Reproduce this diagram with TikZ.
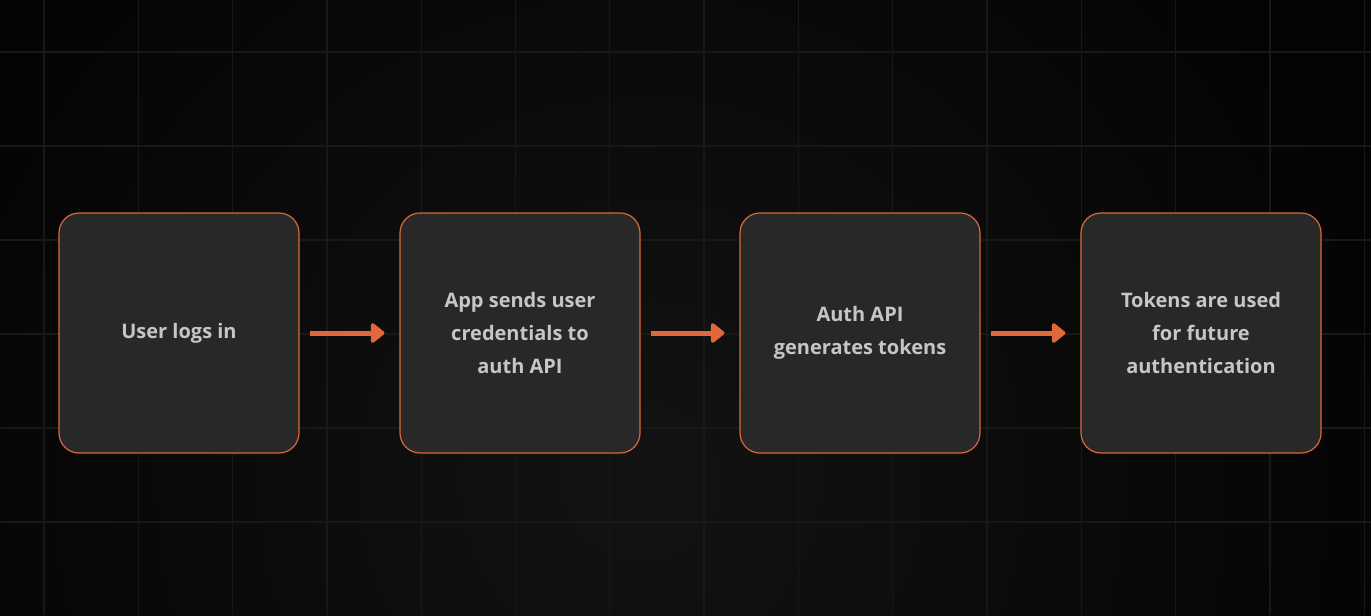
\documentclass[tikz,border=0pt]{standalone}
\usepackage{fontspec}
\setmainfont{Open Sans}
\usetikzlibrary{positioning,arrows.meta}
\definecolor{bgedge}{HTML}{040404}
\definecolor{bgmid}{HTML}{131313}
\definecolor{gridline}{HTML}{181818}
\definecolor{boxfill}{HTML}{282828}
\definecolor{boxline}{HTML}{D9693A}
\definecolor{flowline}{HTML}{E0683A}
\definecolor{boxtext}{HTML}{C6C6C6}

\begin{document}
\begin{tikzpicture}[x=0.75pt,y=-0.75pt,
    stepbox/.style={draw=boxline,fill=boxfill,line width=0.9pt,rounded corners=15pt,
      minimum width=180pt,minimum height=180pt,align=center,text=boxtext,
      font=\bfseries\fontsize{15}{24.75}\selectfont},
    flow/.style={draw=flowline,line width=3.75pt,
      -{Triangle[round,length=11pt,width=17pt]}}]
        % background and grid
        \fill[bgedge] (0,0) rectangle (1371,615);
        \begin{scope}
        \clip (0,0) rectangle (1371,615);
        \shade[inner color=bgmid,outer color=bgedge] (640,480) circle (760);
        \end{scope}
        \useasboundingbox (0,0) rectangle (1371,615);
        \foreach \i in {0,...,14}
          \draw[gridline,line width=1pt] (44+94.3*\i,0) -- (44+94.3*\i,615);
        \foreach \j in {0,...,5}
          \draw[gridline,line width=1pt] (0,52+94*\j) -- (1371,52+94*\j);
        % the four steps
        \node[stepbox] (login) at (179,333) {User logs in};
        \node[stepbox] (send) at (520,333) {App sends user\\credentials to\\auth API};
        \node[stepbox] (gen) at (860,333) {Auth API\\generates tokens};
        \node[stepbox] (use) at (1201,333) {Tokens are used\\for future\\authentication};
        \draw[flow] ([xshift=8pt]login.east) -- ([xshift=-11.25pt]send.west);
        \draw[flow] ([xshift=8pt]send.east) -- ([xshift=-11.25pt]gen.west);
        \draw[flow] ([xshift=8pt]gen.east) -- ([xshift=-11.25pt]use.west);
\end{tikzpicture}
\end{document}
